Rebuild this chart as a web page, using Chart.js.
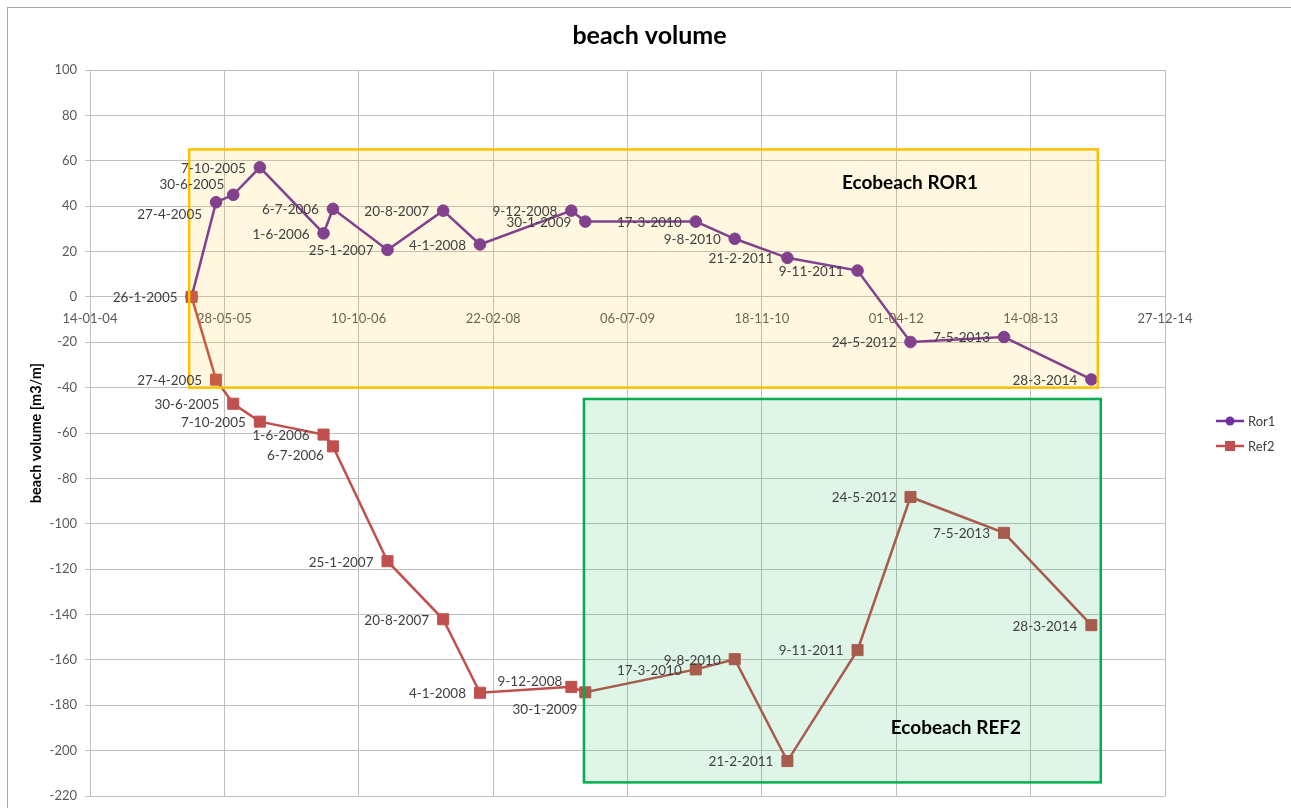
<!DOCTYPE html>
<html>
<head>
<meta charset="utf-8">
<script src="https://cdn.jsdelivr.net/npm/chart.js@4.4.0/dist/chart.umd.min.js"></script>
<style>
  html, body { margin: 0; padding: 0; background: #ffffff; }
  #wrap { width: 1291px; height: 808px; position: relative; }
</style>
</head>
<body>
<div id="wrap"><canvas id="c" width="1291" height="808"></canvas></div>
<script>
// ---------- data ----------
const surveyDates = ['26-1-2005','27-4-2005','30-6-2005','7-10-2005','1-6-2006','6-7-2006','25-1-2007','20-8-2007','4-1-2008','9-12-2008','30-1-2009','17-3-2010','9-8-2010','21-2-2011','9-11-2011','24-5-2012','7-5-2013','28-3-2014'];
// dates as spreadsheet day serials (x axis is a date-valued axis)
const surveySerial = [38378, 38469, 38533, 38632, 38869, 38904, 39107, 39314, 39451, 39791, 39843, 40254, 40399, 40595, 40856, 41053, 41401, 41726];
const ror1Values = [0, 41.7, 45.0, 57.1, 28.0, 38.8, 20.7, 38.0, 23.1, 38.0, 33.2, 33.2, 25.6, 17.2, 11.6, -19.9, -17.7, -36.4];
const ref2Values = [0, -36.5, -47.1, -55.0, -60.7, -65.9, -116.5, -142.1, -174.5, -171.9, -174.3, -164.2, -159.7, -204.6, -155.7, -88.2, -104.0, -144.7];
const seriesNames = ['Ror1', 'Ref2'];
const xTickValues = [38000, 38500, 39000, 39500, 40000, 40500, 41000, 41500, 42000];
const xTickLabels = ['14-01-04','28-05-05','10-10-06','22-02-08','06-07-09','18-11-10','01-04-12','14-08-13','27-12-14'];
const zoneNames = ['Ecobeach ROR1', 'Ecobeach REF2'];
const zoneXRange = [[38369, 41750], [39838, 41761]];
const zoneYRange = [[-40, 65], [-214, -45]];
const zoneLabelAt = [[41051, 50.4], [41222, -190]];

// ---------- styles ----------
const FONT = 'Lato, "Open Sans", sans-serif';
const colRor1 = '#7030A0';
const colRef2 = '#C0504D';
const zoneFill = ['rgba(255,192,0,0.12)', 'rgba(0,176,80,0.13)'];
const zoneStroke = ['#FFC000', '#00B050'];
// label nudges (pixels) for individual data labels that were moved in the original
const labelNudge = [
  {1: [0, 11], 2: [5, -11]},
  {0: null, 5: [5, 8], 9: [5, -6], 10: [6, 16]}
];

const toXY = (vals) => vals.map((v, i) => ({x: surveySerial[i], y: v}));

const borderPlugin = {
  id: 'outerBorder',
  beforeDraw(chart) {
    const ctx = chart.ctx;
    ctx.save();
    ctx.fillStyle = '#ffffff';
    ctx.fillRect(0, 0, chart.width, chart.height);
    ctx.strokeStyle = '#A6A6A6';
    ctx.lineWidth = 1;
    ctx.strokeRect(7.5, 7.5, chart.width + 10, chart.height + 10);
    ctx.restore();
  }
};

const zonesPlugin = {
  id: 'zones',
  afterDatasetsDraw(chart) {
    const {ctx, scales: {x, y}} = chart;
    ctx.save();
    zoneNames.forEach((name, i) => {
      const x0 = x.getPixelForValue(zoneXRange[i][0]);
      const x1 = x.getPixelForValue(zoneXRange[i][1]);
      const y0 = y.getPixelForValue(zoneYRange[i][1]);
      const y1 = y.getPixelForValue(zoneYRange[i][0]);
      ctx.fillStyle = zoneFill[i];
      ctx.fillRect(x0, y0, x1 - x0, y1 - y0);
      ctx.strokeStyle = zoneStroke[i];
      ctx.lineWidth = 2.5;
      ctx.strokeRect(x0, y0, x1 - x0, y1 - y0);
    });
    ctx.restore();
  },
  afterDraw(chart) {
    const {ctx, scales: {x, y}} = chart;
    ctx.save();
    // zone titles
    ctx.font = 'bold 19px ' + FONT;
    ctx.fillStyle = '#000000';
    ctx.textAlign = 'center';
    ctx.textBaseline = 'middle';
    zoneNames.forEach((name, i) => {
      ctx.fillText(name, x.getPixelForValue(zoneLabelAt[i][0]), y.getPixelForValue(zoneLabelAt[i][1]));
    });
    // data labels (left of each point)
    ctx.font = '13.5px ' + FONT;
    ctx.fillStyle = '#404040';
    ctx.textAlign = 'right';
    ctx.textBaseline = 'middle';
    chart.data.datasets.forEach((ds, di) => {
      const meta = chart.getDatasetMeta(di);
      meta.data.forEach((pt, i) => {
        const nudge = labelNudge[di][i];
        if (nudge === null) return;
        const [dx, dy] = nudge || [0, 0];
        ctx.fillText(surveyDates[i], pt.x - 14 + dx, pt.y + 1 + dy);
      });
    });
    // legend
    const legendY = [421, 446];
    const colors = [colRor1, colRef2];
    const styles = ['circle', 'rect'];
    ctx.font = '13px ' + FONT;
    ctx.textAlign = 'left';
    seriesNames.forEach((n, i) => {
      const yy = legendY[i];
      ctx.strokeStyle = colors[i];
      ctx.lineWidth = 2.5;
      ctx.beginPath();
      ctx.moveTo(1216, yy);
      ctx.lineTo(1244, yy);
      ctx.stroke();
      ctx.fillStyle = colors[i];
      if (styles[i] === 'circle') {
        ctx.beginPath();
        ctx.arc(1230, yy, 4.5, 0, Math.PI * 2);
        ctx.fill();
      } else {
        ctx.fillRect(1225, yy - 5, 10, 10);
      }
      ctx.fillStyle = '#404040';
      ctx.fillText(n, 1248, yy + 1);
    });
    ctx.restore();
  }
};

new Chart(document.getElementById('c'), {
  type: 'line',
  data: {
    datasets: [
      {
        label: seriesNames[0],
        data: toXY(ror1Values),
        borderColor: colRor1,
        backgroundColor: colRor1,
        borderWidth: 2.5,
        pointStyle: 'circle',
        pointRadius: 5.8,
        pointBorderWidth: 1,
        tension: 0,
        order: 2
      },
      {
        label: seriesNames[1],
        data: toXY(ref2Values),
        borderColor: colRef2,
        backgroundColor: colRef2,
        borderWidth: 2.5,
        pointStyle: 'rect',
        pointRadius: 7.8,
        pointBorderWidth: 1,
        tension: 0,
        order: 1
      }
    ]
  },
  options: {
    responsive: false,
    animation: false,
    events: [],
    layout: { padding: { left: 8, right: 0, top: 0, bottom: 12 } },
    plugins: {
      legend: { display: false },
      tooltip: { enabled: false },
      title: {
        display: true,
        text: 'beach volume',
        color: '#000000',
        font: { family: FONT, size: 25, weight: 'bold' },
        padding: { top: 21, bottom: 19 }
      }
    },
    scales: {
      x: {
        type: 'linear',
        position: { y: 0 },
        min: xTickValues[0],
        max: xTickValues[xTickValues.length - 1],
        afterBuildTicks: (s) => { s.ticks = xTickValues.map(v => ({ value: v })); },
        ticks: {
          autoSkip: false,
          maxRotation: 0,
          padding: 14,
          color: '#595959',
          font: { family: FONT, size: 13 },
          callback: (v, i) => xTickLabels[i]
        },
        grid: { color: '#BFBFBF', lineWidth: 1, drawTicks: false },
        border: { display: false }
      },
      y: {
        type: 'linear',
        position: 'left',
        min: -220,
        max: 100,
        ticks: {
          stepSize: 20,
          padding: 8,
          color: '#595959',
          font: { family: FONT, size: 13 }
        },
        grid: { color: '#BFBFBF', lineWidth: 1, tickLength: 5 },
        border: { color: '#BFBFBF' },
        title: {
          display: true,
          text: 'beach volume [m3/m]',
          color: '#000000',
          font: { family: FONT, size: 14.5, weight: 'bold' },
          padding: { top: 20, bottom: 0 }
        },
        afterFit: (s) => { s.width = 82; s.paddingBottom = 0; s.paddingTop = 0; }
      },
      yRight: {
        type: 'linear',
        position: 'right',
        display: true,
        grid: { display: false },
        border: { display: false },
        ticks: { display: false },
        afterFit: (s) => { s.width = 126; }
      }
    }
  },
  plugins: [borderPlugin, zonesPlugin]
});
</script>
</body>
</html>
